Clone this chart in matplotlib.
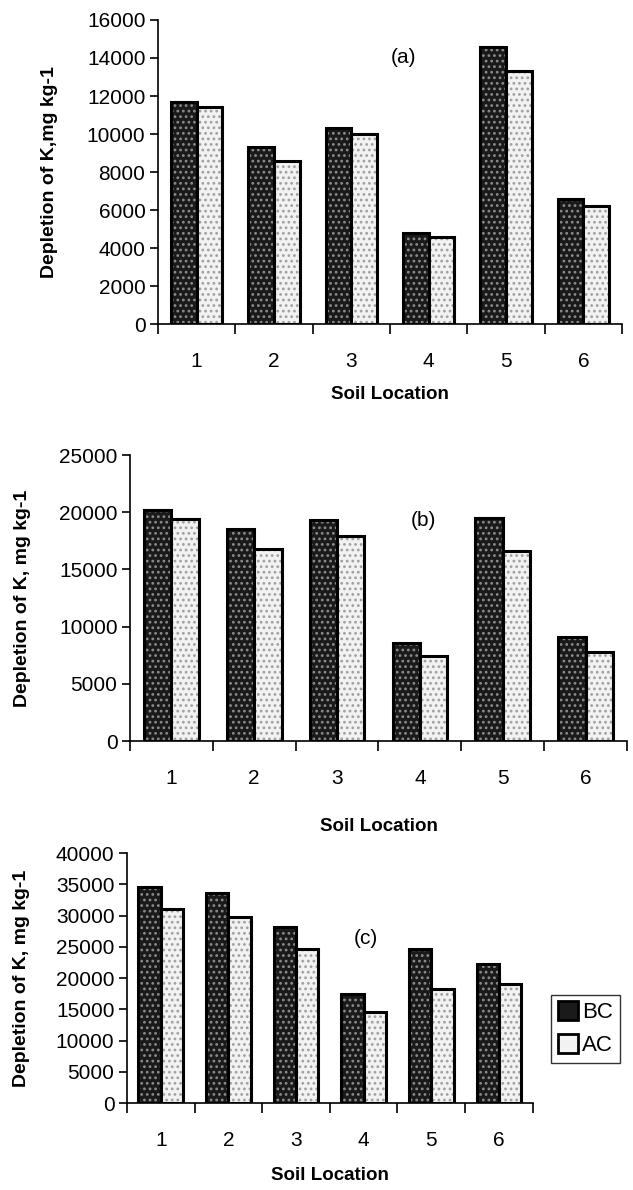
import numpy as np
import matplotlib
matplotlib.use('Agg')
import matplotlib.pyplot as plt
from matplotlib.patches import Patch

# 数据
locations = ['1', '2', '3', '4', '5', '6']
bc_a = [11700, 9300, 10300, 4800, 14600, 6600]
ac_a = [11400, 8600, 10000, 4600, 13300, 6200]
bc_b = [20200, 18500, 19300, 8600, 19500, 9100]
ac_b = [19400, 16800, 17900, 7400, 16600, 7800]
bc_c = [34500, 33600, 28200, 17500, 24600, 22200]
ac_c = [31100, 29700, 24700, 14500, 18300, 19000]

plt.rcParams['font.family'] = ['Liberation Sans', 'DejaVu Sans']
plt.rcParams['hatch.linewidth'] = 1.2

fig = plt.figure(figsize=(6.33, 11.9), dpi=100)

bc_style = dict(color='#1a1a1a', edgecolor='#8c8c8c', hatch='...', linewidth=0)
ac_style = dict(color='#f2f2f2', edgecolor='#a0a0a0', hatch='...', linewidth=0)
w = 0.33


def panel(rect, bc, ac, ymax, ystep, ylabel, tag, tag_xy, ylab_x, xlab_y):
    ax = fig.add_axes(rect)
    x = np.arange(1, len(locations) + 1)
    ax.bar(x - w / 2, bc, w, **bc_style)
    ax.bar(x - w / 2, bc, w, fill=False, edgecolor='black', linewidth=2.2)
    ax.bar(x + w / 2, ac, w, **ac_style)
    ax.bar(x + w / 2, ac, w, fill=False, edgecolor='black', linewidth=2.2)

    ax.set_xlim(0.5, len(locations) + 0.5)
    ax.set_ylim(0, ymax)
    ax.set_yticks(np.arange(0, ymax + 1, ystep))
    ax.set_xticks(np.arange(0.5, len(locations) + 1, 1))
    ax.set_xticklabels([])
    ax.set_xticks(x, minor=True)
    ax.set_xticklabels(locations, minor=True, fontsize=15)
    ax.tick_params(axis='x', which='minor', length=0, pad=20)
    ax.tick_params(axis='x', which='major', length=7, width=1.2)
    ax.tick_params(axis='y', labelsize=15, length=6, width=1.2, pad=3)
    for s in ['top', 'right']:
        ax.spines[s].set_visible(False)
    for s in ['left', 'bottom']:
        ax.spines[s].set_linewidth(1.2)

    ax.set_ylabel(ylabel, fontsize=14, fontweight='bold')
    ax.yaxis.set_label_coords(ylab_x, 0.5)
    ax.set_xlabel('Soil Location', fontsize=13.5, fontweight='bold')
    ax.xaxis.set_label_coords(0.5, xlab_y)
    ax.text(tag_xy[0], tag_xy[1], tag, transform=ax.transAxes, fontsize=15,
            ha='center', va='center')
    return ax


panel([0.2496, 0.7277, 0.733, 0.2555], bc_a, ac_a, 16000, 2000,
      'Depletion of K,mg kg-1', '(a)', (0.53, 0.875), -0.215, -0.205)
panel([0.2054, 0.3773, 0.785, 0.2403], bc_b, ac_b, 25000, 5000,
      'Depletion of K, mg kg-1', '(b)', (0.59, 0.77), -0.2, -0.27)
ax_c = panel([0.2006, 0.0731, 0.641, 0.210], bc_c, ac_c, 40000, 5000,
             'Depletion of K, mg kg-1', '(c)', (0.59, 0.66), -0.24, -0.255)

h_bc = (Patch(**bc_style), Patch(fill=False, edgecolor='black', linewidth=2))
h_ac = (Patch(**ac_style), Patch(fill=False, edgecolor='black', linewidth=2))
fig.legend([h_bc, h_ac], ['BC', 'AC'], loc='center', bbox_to_anchor=(0.925, 0.1355),
           fontsize=16, frameon=True, fancybox=False, edgecolor='black',
           handlelength=0.9, handleheight=0.9, handletextpad=0.2,
           borderpad=0.3, labelspacing=0.5, borderaxespad=0)

fig.savefig('out.png', dpi=100)
